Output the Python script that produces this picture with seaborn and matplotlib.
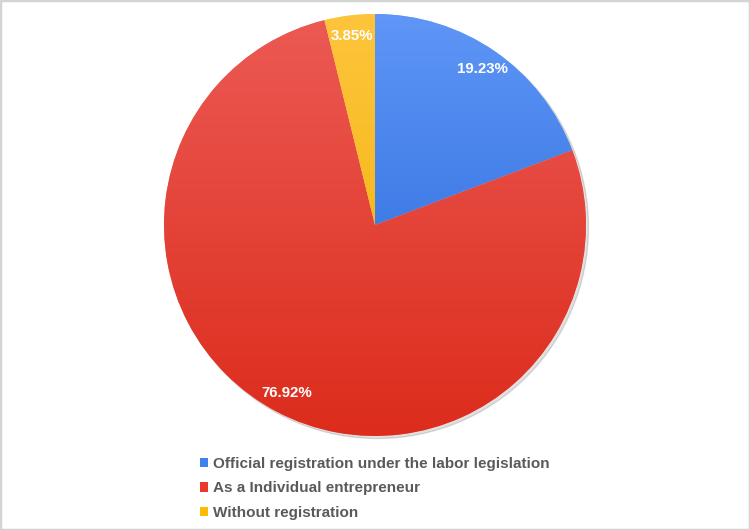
import numpy as np
import matplotlib
matplotlib.use("Agg")
import matplotlib.pyplot as plt
import seaborn as sns
from matplotlib.patches import Rectangle, Patch
from matplotlib.colors import LinearSegmentedColormap

categories = ["Official registration under the labor legislation",
              "As a Individual entrepreneur",
              "Without registration"]
values = [19.23, 76.92, 3.85]
base_colors = ["#3f82ef", "#e8392b", "#fbbc05"]
top_colors = ["#5f96f7", "#ec5a54", "#fec53c"]
bottom_colors = ["#1f62d4", "#dc2c1c", "#eeae00"]

sns.set_theme(style="white")
plt.rcParams['font.family'] = ['Liberation Sans', 'DejaVu Sans']

fig = plt.figure(figsize=(7.5, 5.3), dpi=100)
fig.patch.set_facecolor("white")
W, H = 750, 530
cx, cy, r = 375, 225, 211
ax = fig.add_axes([(cx - r) / W, (H - cy - r) / H, 2 * r / W, 2 * r / H])

wedges, texts = ax.pie(values, colors=base_colors, startangle=90, counterclock=False,
                       radius=1.0, labels=[f"{v:.2f}%" for v in values],
                       labeldistance=0.9,
                       textprops=dict(color="white", fontsize=10.8, fontweight="bold"),
                       wedgeprops=dict(linewidth=0.6, edgecolor=(1, 1, 1, 0.5)))
for t in texts:
    t.set_horizontalalignment("center")
    t.set_verticalalignment("center")

grad = np.linspace(1, 0, 256).reshape(-1, 1)
for w, tc, bc in zip(wedges, top_colors, bottom_colors):
    cmap = LinearSegmentedColormap.from_list("g", [bc, tc])
    im = ax.imshow(grad, cmap=cmap, extent=(-1, 1, -1, 1), aspect="auto",
                   zorder=w.get_zorder() + 0.1, origin="upper")
    im.set_clip_path(w)
for t in texts:
    t.set_zorder(5)

# subtle shadow
shadow = plt.Circle((0.012, -0.012), 1.0, color=(0, 0, 0, 0.12), zorder=0, clip_on=False)
ax.add_patch(shadow)
ax.set_xlim(-1.0, 1.0)
ax.set_ylim(-1.0, 1.0)
ax.axis("off")

handles = [Patch(facecolor=c, edgecolor="none") for c in base_colors]
leg = fig.legend(handles, categories, loc="upper left",
                 bbox_to_anchor=(200 / W, 1 - 457 / H), frameon=False,
                 handlelength=0.55, handleheight=0.55, handletextpad=0.3,
                 labelspacing=0.68, borderpad=0, borderaxespad=0,
                 prop=dict(size=11.0, weight="bold"))
for t in leg.get_texts():
    t.set_color("#5a5a5a")

fig.add_artist(Rectangle((0, 0), 1, 1, transform=fig.transFigure, fill=False,
                         edgecolor="#d4d4d4", linewidth=2.5))
fig.savefig("out.png", dpi=100)
